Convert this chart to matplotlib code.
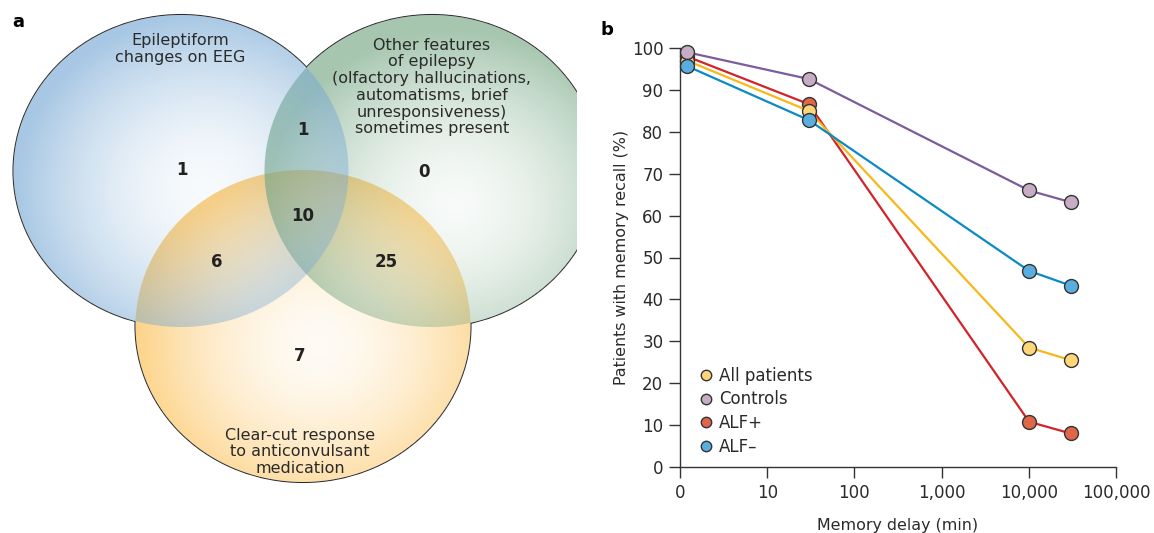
import numpy as np
import matplotlib
matplotlib.use("Agg")
import matplotlib.pyplot as plt
from matplotlib.patches import Ellipse
from matplotlib.lines import Line2D

plt.rcParams['font.family'] = ['DejaVu Sans']

# ---- panel a: Venn counts ----
set_labels = ["Epileptiform\nchanges on EEG",
              "Other features\nof epilepsy\n(olfactory hallucinations,\nautomatisms, brief\nunresponsiveness)\nsometimes present",
              "Clear-cut response\nto anticonvulsant\nmedication"]
region_names = ["EEG only", "Other only", "Drug only", "EEG+Other", "EEG+Drug", "Other+Drug", "All three"]
region_counts = [1, 0, 7, 1, 6, 25, 10]

# ---- panel b: memory recall ----
delay_min = [1.2, 30, 10080, 30240]
all_patients = [97, 85, 28.5, 25.5]
controls = [99, 92.6, 66, 63.2]
alf_pos = [98, 86.6, 10.8, 8]
alf_neg = [95.7, 82.8, 46.8, 43.3]
xtick_vals = [1, 10, 100, 1000, 10000, 100000]
xtick_labels = ["0", "10", "100", "1,000", "10,000", "100,000"]

fig = plt.figure(figsize=(11.54, 5.33), dpi=100)

# ---------------- panel a ----------------
W, H = 577, 533
axa = fig.add_axes([0, 0, W / 1154, 1])
axa.set_xlim(0, W)
axa.set_ylim(H, 0)
axa.axis('off')

rx, ry = 167.5, 156
# center x, center y, gradient x, gradient y, colour, alpha min, alpha max
circles = [
    (303, 326, 318, 345, (0.99, 0.76, 0.35), 0.06, 0.75),
    (432, 171, 455, 205, (0.42, 0.63, 0.48), 0.05, 0.60),
    (181, 171, 205, 190, (0.45, 0.65, 0.83), 0.05, 0.62),
]

yy, xx = np.mgrid[0:H, 0:W] + 0.5
out = np.ones((H, W, 3))
union = np.zeros((H, W))
for cx, cy, gx, gy, col, amin, amax in circles:
    f = np.sqrt(((xx - cx) / rx) ** 2 + ((yy - cy) / ry) ** 2)
    mask = np.clip((1 - f) * 160 + 0.5, 0, 1)
    d = np.clip(np.sqrt(((xx - gx) / (rx * 1.12)) ** 2 + ((yy - gy) / (ry * 1.12)) ** 2), 0, 1)
    a = mask * (amin + (amax - amin) * d ** 1.7)
    out = out * (1 - a[..., None]) + np.array(col) * a[..., None]
    union = np.maximum(union, mask)
    axa.add_patch(Ellipse((cx, cy), 2 * rx, 2 * ry, fill=False, ec='#2b2b2b', lw=1.5, zorder=1))

rgba = np.dstack([out, union])
axa.imshow(rgba, extent=(0, W, H, 0), zorder=2, interpolation='nearest')

txt_kw = dict(ha='center', va='center', fontsize=11.5, color='#2a2a2a', zorder=3, linespacing=1.15)
axa.text(180, 49, set_labels[0], **txt_kw)
axa.text(432, 87, set_labels[1], **txt_kw)
axa.text(300, 452, set_labels[2], **txt_kw)

num_pos = [(182, 170), (424, 172), (300, 356), (303, 130), (217, 262), (386, 262), (303, 216)]
for (px, py), n in zip(num_pos, region_counts):
    axa.text(px, py, str(n), ha='center', va='center', fontsize=12, fontweight='bold',
             color='#222222', zorder=3)

fig.text(12 / 1154, 1 - 22 / 533, "a", fontsize=13, fontweight='bold', ha='left', va='center')
fig.text(601 / 1154, 1 - 30 / 533, "b", fontsize=13, fontweight='bold', ha='left', va='center')

# ---------------- panel b ----------------
ax = fig.add_axes([680 / 1154, 66 / 533, 436 / 1154, 419 / 533])
series = [
    ("ALF+", alf_pos, '#d2232a', '#e0664a'),
    ("All patients", all_patients, '#f6b81a', '#fdd67a'),
    ("Controls", controls, '#7b5c9c', '#c7adc3'),
    ("ALF\u2013", alf_neg, '#0b8ac4', '#5aaedf'),
]
for i, (name, vals, lc, fc) in enumerate(series):
    ax.plot(delay_min, vals, color=lc, lw=1.6, marker='o', ms=10, mfc=fc, mec='#333333',
            mew=1.0, zorder=3 + i, clip_on=False)

ax.set_xscale('log')
ax.set_xlim(1, 100000)
ax.set_ylim(0, 100)
ax.set_xticks(xtick_vals)
ax.set_xticklabels(xtick_labels)
ax.xaxis.set_minor_locator(matplotlib.ticker.NullLocator())
ax.set_yticks(range(0, 101, 10))
for s in ['top', 'right']:
    ax.spines[s].set_visible(False)
for s in ['left', 'bottom']:
    ax.spines[s].set_color('#333333')
    ax.spines[s].set_linewidth(1.0)
ax.tick_params(length=8, width=1.0, color='#333333', labelsize=12, labelcolor='#2a2a2a', pad=4)
ax.set_ylabel("Patients with memory recall (%)", fontsize=11.4, color='#2a2a2a')
ax.set_xlabel("Memory delay (min)", fontsize=11.4, color='#2a2a2a')
ax.yaxis.set_label_coords(-0.117, 0.5)
ax.xaxis.set_label_coords(0.5, -0.122)

order = [1, 2, 0, 3]
handles = [Line2D([], [], ls='none', marker='o', ms=7.5, mfc=series[k][3], mec='#333333', mew=1.0,
                  label=series[k][0]) for k in order]
ax.legend(handles=handles, loc='lower left', bbox_to_anchor=(0.0425, 0.027), frameon=False,
          fontsize=12, handlelength=0.9, handletextpad=0.33, labelspacing=0.34,
          borderaxespad=0, borderpad=0, labelcolor='#2a2a2a')

fig.savefig("out.png", dpi=100)
